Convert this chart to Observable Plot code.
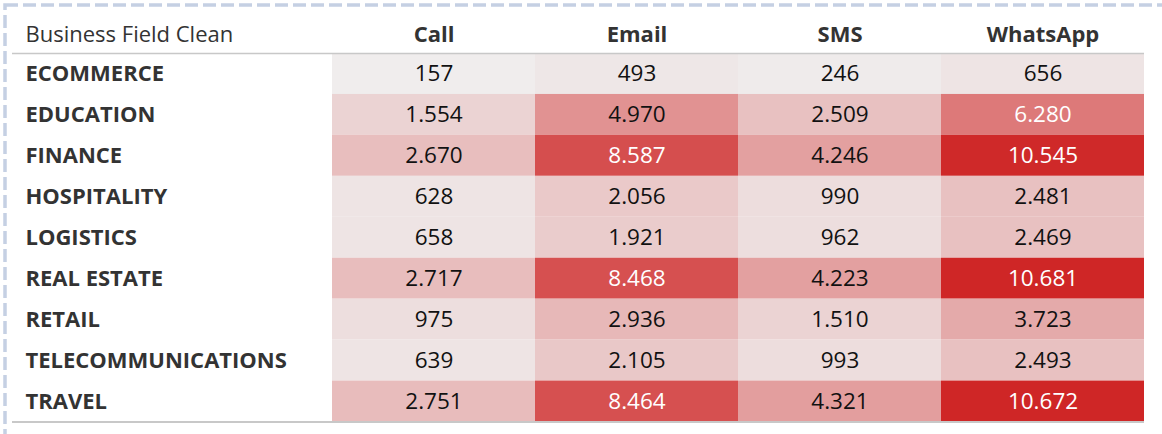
<!DOCTYPE html>
<html>
<head>
<meta charset="utf-8">
<script src="https://cdn.jsdelivr.net/npm/d3@7"></script>
<script src="https://cdn.jsdelivr.net/npm/@observablehq/plot@0.6"></script>
<style>
  html, body { margin: 0; padding: 0; background: #fff; }
  #chart svg { display: block; }
</style>
</head>
<body>
<div id="chart"></div>
<script>
const fields = ["ECOMMERCE", "EDUCATION", "FINANCE", "HOSPITALITY", "LOGISTICS", "REAL ESTATE", "RETAIL", "TELECOMMUNICATIONS", "TRAVEL"];
const channels = ["Call", "Email", "SMS", "WhatsApp"];
const callValues = [157, 1554, 2670, 628, 658, 2717, 975, 639, 2751];
const emailValues = [493, 4970, 8587, 2056, 1921, 8468, 2936, 2105, 8464];
const smsValues = [246, 2509, 4246, 990, 962, 4223, 1510, 993, 4321];
const whatsappValues = [656, 6280, 10545, 2481, 2469, 10681, 3723, 2493, 10672];
const rowHeaderTitle = "Business Field Clean";

const series = {Call: callValues, Email: emailValues, SMS: smsValues, WhatsApp: whatsappValues};
const table = [];
for (const ch of channels) {
  fields.forEach((f, i) => table.push({field: f, channel: ch, value: series[ch][i]}));
}
const fmt = d3.formatLocale({decimal: ",", thousands: ".", grouping: [3], currency: ["", ""]}).format(",d");
const maxVal = d3.max(table, d => d.value);

const W = 1162, H = 434;
const mLeft = 332, mRight = 18, mTop = 53, mBottom = 12.5;
const bandH = (H - mTop - mBottom) / fields.length;
const font = "'Open Sans', 'DejaVu Sans', sans-serif";

const chart = Plot.plot({
  width: W,
  height: H,
  marginLeft: mLeft,
  marginRight: mRight,
  marginTop: mTop,
  marginBottom: mBottom,
  style: {fontFamily: font, background: "#fff", overflow: "visible"},
  x: {domain: channels, padding: 0, round: false, axis: null},
  y: {domain: fields, padding: 0, round: false, axis: null},
  color: {type: "linear", domain: [0, maxVal], range: ["#f0f0f0", "#cf2626"], interpolate: "rgb"},
  marks: [
    Plot.cell(table, {x: "channel", y: "field", fill: "value"}),
    Plot.text(table, {
      x: "channel", y: "field", text: d => fmt(d.value),
      fill: d => d.value > 5500 ? "#ffffff" : "#111111",
      fontSize: 22.5
    }),
    Plot.axisX({anchor: "top", tickSize: 0, tickPadding: 11.5, label: null, fontSize: 22, fontWeight: "bold", fill: "#333"}),
    Plot.axisY({anchor: "left", tickSize: 0, tickPadding: 0, textAnchor: "start", dx: -(mLeft - 25), label: null, fontSize: 22, fontWeight: "bold", fill: "#333"}),
    Plot.text([rowHeaderTitle], {frameAnchor: "top-left", text: d => d, dx: -(mLeft - 25), dy: -11.5, lineAnchor: "bottom", textAnchor: "start", fontSize: 22, fill: "#333"}),
    Plot.ruleY([fields[0]], {y: d => d, dy: -bandH / 2, insetLeft: -(mLeft - 12), stroke: "#c8c8c8", strokeWidth: 1.5}),
    Plot.ruleY([fields[fields.length - 1]], {y: d => d, dy: bandH / 2, insetLeft: -(mLeft - 12), stroke: "#c8c8c8", strokeWidth: 2}),
    Plot.frame({stroke: "#c5d0e3", strokeWidth: 3.5, strokeDasharray: "13,5", insetTop: -(mTop - 4.5), insetLeft: -(mLeft - 4.5), insetRight: -60, insetBottom: -60})
  ]
});
document.getElementById("chart").appendChild(chart);
</script>
</body>
</html>
